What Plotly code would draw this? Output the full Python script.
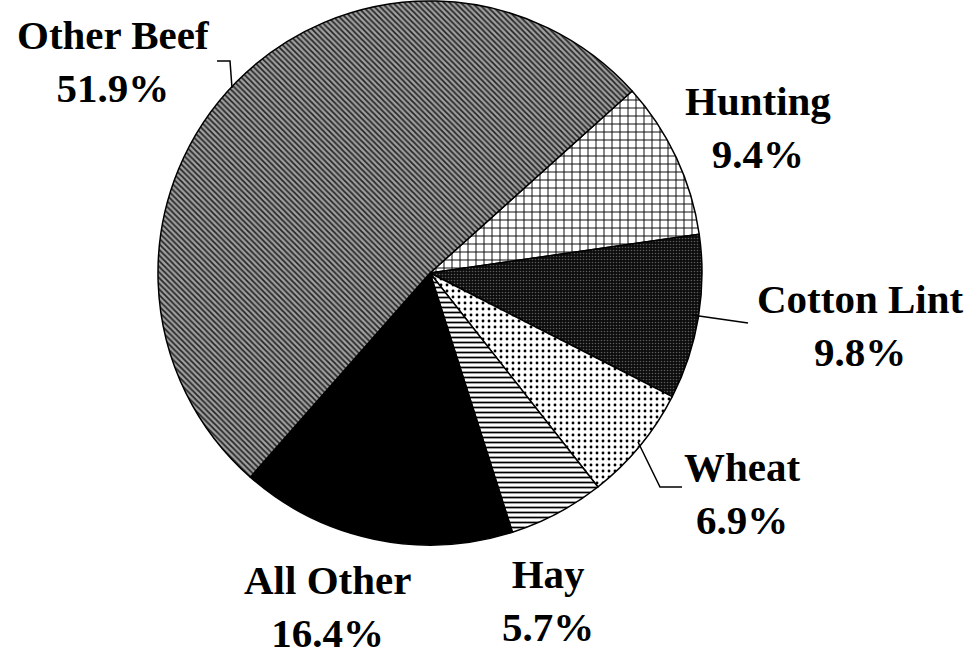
import plotly.graph_objects as go

categories = ["Hunting", "Cotton Lint", "Wheat", "Hay", "All Other", "Other Beef"]
shares = [9.4, 9.8, 6.9, 5.7, 16.4, 51.9]
label_text = ["9.4%", "9.8%", "6.9%", "5.7%", "16.4%", "51.9%"]

W, H = 969, 655

patterns = dict(
    shape=["+", ".", ".", "-", "", "\\"],
    fgcolor=["#000000", "#5a5a5a", "#000000", "#000000", "#000000", "#262626"],
    bgcolor=["#ffffff", "#0c0c0c", "#ffffff", "#ffffff", "#000000", "#a0a0a0"],
    size=[8, 3, 6, 5, 8, 4],
    solidity=[0.22, 0.22, 0.18, 0.35, 0.5, 0.45],
    fillmode="replace",
)

fig = go.Figure(go.Pie(
    labels=categories,
    values=shares,
    sort=False,
    direction="clockwise",
    rotation=48,
    textinfo="none",
    hoverinfo="label+percent",
    marker=dict(
        colors=["#ffffff", "#0c0c0c", "#ffffff", "#ffffff", "#000000", "#a0a0a0"],
        line=dict(color="#000000", width=1.5),
        pattern=patterns,
    ),
    domain=dict(x=[158 / W, 702 / W], y=[1 - 546 / H, 1.0]),
    showlegend=False,
))


def P(x, y):
    return x / W, 1 - y / H


label_pos = {
    "Hunting": (758, 128),
    "Cotton Lint": (860, 325),
    "Wheat": (742, 493),
    "Hay": (548, 600),
    "All Other": (327, 606),
    "Other Beef": (113, 62),
}
font = dict(family="Liberation Serif, Times New Roman, serif", size=41, color="#000000")
for cat, txt in zip(categories, label_text):
    px, py = P(*label_pos[cat])
    fig.add_annotation(
        x=px, y=py, xref="paper", yref="paper",
        text=f"<b>{cat}<br>{txt}</b>", showarrow=False,
        font=font, align="center", xanchor="center", yanchor="middle",
    )

leaders = [
    [(217, 61), (230, 61), (232, 88)],
    [(692, 315), (748, 323)],
    [(638, 442), (660, 487), (682, 487)],
]
for pts in leaders:
    path = "M " + " L ".join(f"{P(*p)[0]},{P(*p)[1]}" for p in pts)
    fig.add_shape(type="path", path=path, xref="paper", yref="paper",
                  line=dict(color="#000000", width=1.5))

fig.update_layout(
    width=W, height=H,
    margin=dict(l=0, r=0, t=0, b=0),
    paper_bgcolor="#ffffff", plot_bgcolor="#ffffff",
)

fig.write_html(
    "out.html",
    config={"displayModeBar": False},
    post_script="document.body.style.margin='0';document.body.style.overflow='hidden';",
)
